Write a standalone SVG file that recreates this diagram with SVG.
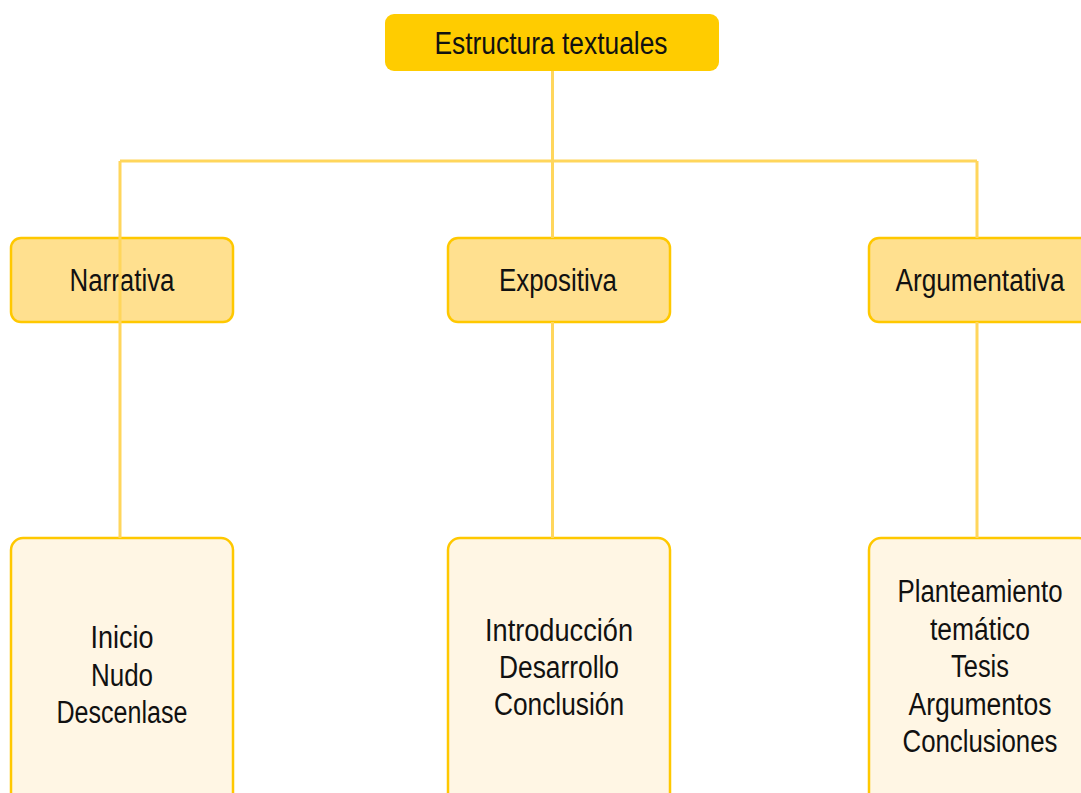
<svg xmlns="http://www.w3.org/2000/svg" width="1081" height="793" viewBox="0 0 1081 793">
<style>
text{font-family:"Liberation Sans",Arial,sans-serif;font-size:31px;fill:#111;text-anchor:middle}
.root{fill:#FFCC00}
.mid{fill:#FFE08F;stroke:#FFC800;stroke-width:2.5}
.leaf{fill:#FFF6E4;stroke:#FFC800;stroke-width:2.5}
.conn{stroke:#FFD65C;stroke-width:3;fill:none}
</style>
<rect width="1081" height="793" fill="#FFFFFF"/>
<g id="root">
<rect class="root" x="385" y="14" width="334" height="57" rx="9"/>
<text x="551" y="53.5" textLength="233" lengthAdjust="spacingAndGlyphs">Estructura textuales</text>
</g>
<g id="narrativa">
<rect class="mid" x="11" y="238" width="222" height="84" rx="10"/>
<text x="122" y="291" textLength="105" lengthAdjust="spacingAndGlyphs">Narrativa</text>
</g>
<g id="expositiva">
<rect class="mid" x="448" y="238" width="222" height="84" rx="10"/>
<text x="558" y="291" textLength="118" lengthAdjust="spacingAndGlyphs">Expositiva</text>
</g>
<g id="argumentativa">
<rect class="mid" x="869" y="238" width="222" height="84" rx="10"/>
<text x="980" y="291" textLength="169" lengthAdjust="spacingAndGlyphs">Argumentativa</text>
</g>
<g id="narrativa-partes">
<rect class="leaf" x="11" y="538" width="222" height="270" rx="12"/>
<text x="122" y="648" textLength="63" lengthAdjust="spacingAndGlyphs">Inicio</text>
<text x="122" y="685.5" textLength="62" lengthAdjust="spacingAndGlyphs">Nudo</text>
<text x="122" y="722.5" textLength="131" lengthAdjust="spacingAndGlyphs">Descenlase</text>
</g>
<g id="expositiva-partes">
<rect class="leaf" x="448" y="538" width="222" height="270" rx="12"/>
<text x="559" y="641" textLength="148" lengthAdjust="spacingAndGlyphs">Introducción</text>
<text x="559" y="678" textLength="120" lengthAdjust="spacingAndGlyphs">Desarrollo</text>
<text x="559" y="714.5" textLength="130" lengthAdjust="spacingAndGlyphs">Conclusión</text>
</g>
<g id="argumentativa-partes">
<rect class="leaf" x="869" y="538" width="222" height="270" rx="12"/>
<text x="980" y="602" textLength="165" lengthAdjust="spacingAndGlyphs">Planteamiento</text>
<text x="980" y="640" textLength="100" lengthAdjust="spacingAndGlyphs">temático</text>
<text x="980" y="677" textLength="58" lengthAdjust="spacingAndGlyphs">Tesis</text>
<text x="980" y="714.5" textLength="143" lengthAdjust="spacingAndGlyphs">Argumentos</text>
<text x="980" y="752" textLength="155" lengthAdjust="spacingAndGlyphs">Conclusiones</text>
</g>
<g id="connectors">
<path class="conn" d="M552.5 71V161M120 161H977"/>
<path class="conn" d="M120 161V538"/>
<path class="conn" d="M552.5 161V238M552.5 322V538"/>
<path class="conn" d="M977 161V238M977 322V538"/>
</g>
</svg>
